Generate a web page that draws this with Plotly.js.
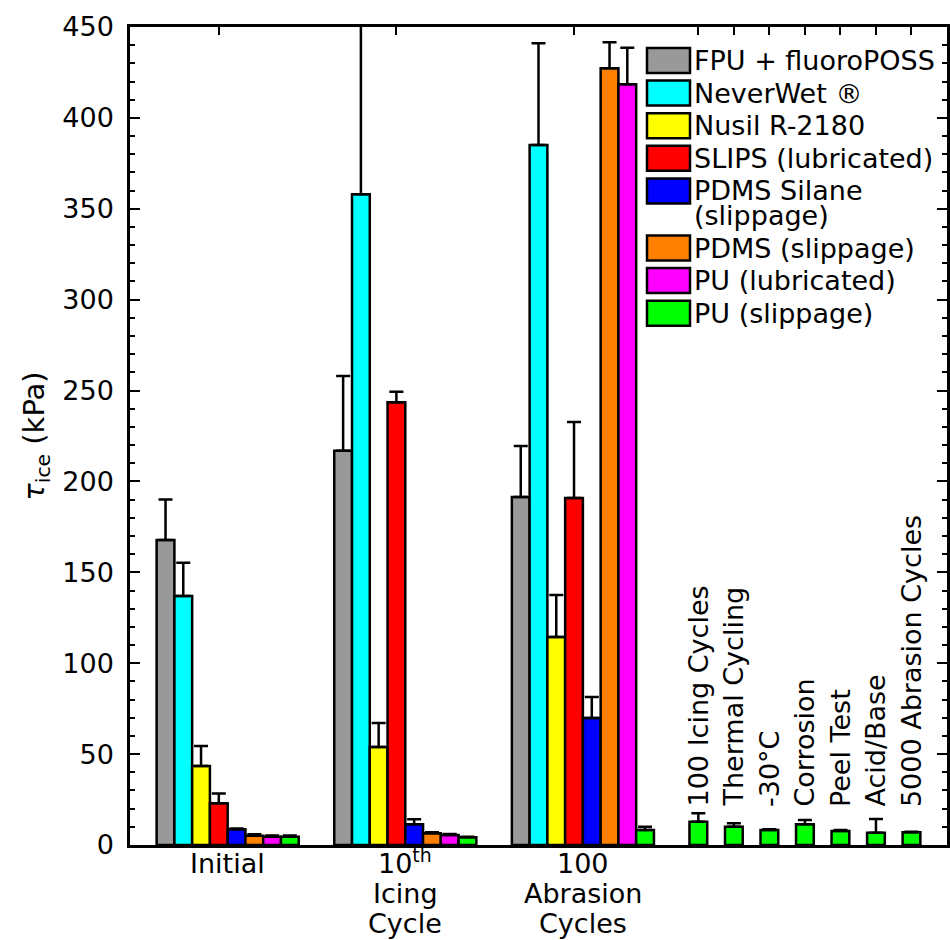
<!DOCTYPE html>
<html>
<head>
<meta charset="utf-8">
<script src="https://cdn.plot.ly/plotly-3.0.1.min.js"></script>
<style>
  html, body { margin: 0; padding: 0; background: #ffffff; }
  #chart { width: 950px; height: 940px; }
</style>
</head>
<body>
<div id="chart"></div>
<script>
// Ice adhesion strength of each coating, before and after durability testing.
const stages = ['Initial', '10<sup>th</sup><br>Icing<br>Cycle', '100<br>Abrasion<br>Cycles'];
const coatings = ['FPU + fluoroPOSS', 'NeverWet ®', 'Nusil R-2180', 'SLIPS (lubricated)',
  'PDMS Silane<br>(slippage)', 'PDMS (slippage)', 'PU (lubricated)', 'PU (slippage)'];
const coatingColors = ['#999999', '#00FFFF', '#FFFF00', '#FF0000', '#0000FF', '#FF8000', '#FF00FF', '#00FF00'];

// τ_ice in kPa: [Initial, 10th icing cycle, 100 abrasion cycles], with upper error
const fpuFluoroPOSS = [167.8, 216.9, 191.4];
const fpuFluoroPOSSErr = [22.3, 41.1, 28.1];
const neverWet = [137.0, 358.0, 385.1];
const neverWetErr = [18.3, 110.0, 55.9];
const nusil = [43.5, 53.9, 114.4];
const nusilErr = [11.0, 13.2, 23.1];
const slips = [22.9, 243.5, 190.9];
const slipsErr = [5.5, 5.9, 41.8];
const pdmsSilane = [8.6, 11.4, 69.9];
const pdmsSilaneErr = [0.5, 2.7, 11.5];
const pdms = [5.1, 6.4, 427.3];
const pdmsErr = [0.8, 0.6, 14.3];
const puLubricated = [4.6, 5.5, 418.5];
const puLubricatedErr = [0.6, 0.5, 20.1];
const puSlippage = [4.6, 4.2, 8.3];
const puSlippageErr = [0.6, 0.4, 1.8];

// PU (slippage) after the extended durability tests
const durabilityTests = ['100 Icing Cycles', 'Thermal Cycling', '-30°C', 'Corrosion',
  'Peel Test', 'Acid/Base', '5000 Abrasion Cycles'];
const puSlippageTests = [12.8, 10.1, 8.3, 11.4, 7.7, 6.8, 7.0];
const puSlippageTestsErr = [4.6, 1.8, 0.3, 2.4, 0.5, 7.5, 0.3];

const coatingValues = [fpuFluoroPOSS, neverWet, nusil, slips, pdmsSilane, pdms, puLubricated, puSlippage];
const coatingErrors = [fpuFluoroPOSSErr, neverWetErr, nusilErr, slipsErr, pdmsSilaneErr, pdmsErr, puLubricatedErr, puSlippageErr];

// ---- layout geometry ----
const W = 950, H = 940;
const margin = { l: 130, r: 3, t: 27, b: 95 };
const plotW = W - margin.l - margin.r;
const plotH = H - margin.t - margin.b;
const pxX = x => (x - margin.l) / plotW;       // page pixel -> paper x
const pxY = y => (H - margin.b - y) / plotH;   // page pixel -> paper y

const stageSpacing = 10;   // bar slots between stage groups
const testStart = 30;      // slot of the first extended test bar
const testSpacing = 2;
const stageX = (g, s) => g * stageSpacing + s;
const testX = k => testStart + k * testSpacing;

const FONT = 'DejaVu Sans, Liberation Sans, Arial, sans-serif';
const FS = 27;

// ---- bars ----
const traces = coatings.map((name, s) => {
  const x = stages.map((_, g) => stageX(g, s));
  const y = coatingValues[s].slice();
  const err = coatingErrors[s].slice();
  if (s === coatings.length - 1) {
    durabilityTests.forEach((_, k) => {
      x.push(testX(k));
      y.push(puSlippageTests[k]);
      err.push(puSlippageTestsErr[k]);
    });
  }
  return {
    type: 'bar',
    name: name,
    x: x,
    y: y,
    width: 1,
    marker: { color: coatingColors[s], line: { color: '#000000', width: 2.5 } },
    error_y: {
      type: 'data', symmetric: false, array: err,
      arrayminus: err.map(() => 0),
      color: '#000000', thickness: 2.5, width: 7
    },
    showlegend: false,
    hoverinfo: 'skip'
  };
});

const annotations = [];
const shapes = [];

// stage labels under the axis, one line at a time
stages.forEach((label, g) => {
  const center = (stageX(g, 0) + stageX(g, coatings.length - 1)) / 2;
  label.split('<br>').forEach((line, k) => {
    annotations.push({
      xref: 'x', yref: 'paper', x: center, y: 0,
      xanchor: 'center', yanchor: 'bottom',
      yshift: -36 - 30 * k,
      text: line, showarrow: false,
      font: { family: FONT, size: FS, color: '#000000' }
    });
  });
});

// rotated names of the extended tests above their bars
durabilityTests.forEach((label, k) => {
  annotations.push({
    xref: 'x', yref: 'y', x: testX(k), y: 20,
    xanchor: 'center', yanchor: 'bottom',
    textangle: -90,
    text: label, showarrow: false,
    font: { family: FONT, size: FS, color: '#000000' }
  });
});

// legend: boxed swatches with names
let cy = 60.5;
coatings.forEach((name, s) => {
  const lines = name.split('<br>');
  shapes.push({
    type: 'rect', xref: 'paper', yref: 'paper',
    x0: pxX(647), x1: pxX(690), y0: pxY(cy + 12.5), y1: pxY(cy - 12.5),
    fillcolor: coatingColors[s], line: { color: '#000000', width: 2.5 }
  });
  lines.forEach((line, k) => {
    annotations.push({
      xref: 'paper', yref: 'paper', x: pxX(692), y: pxY(cy + 25 * k),
      xanchor: 'left', yanchor: 'middle',
      text: line, showarrow: false,
      font: { family: FONT, size: FS, color: '#000000' }
    });
  });
  cy += 32.6 + (lines.length - 1) * 24.5;
});

// ticks along the frame at each stage and test position
const frameTicks = stages.map((_, g) => stageX(g, 3)).concat(durabilityTests.map((_, k) => testX(k)));

const layout = {
  width: W, height: H,
  margin: margin,
  paper_bgcolor: '#ffffff',
  plot_bgcolor: '#ffffff',
  barmode: 'overlay',
  showlegend: false,
  font: { family: FONT, size: FS, color: '#000000' },
  xaxis: {
    range: [-2, 44],
    showline: true, linecolor: '#000000', linewidth: 2.5, mirror: 'allticks',
    tickmode: 'array', tickvals: frameTicks, showticklabels: false,
    ticks: 'inside', ticklen: 8, tickwidth: 2, tickcolor: '#000000',
    showgrid: false, zeroline: false,
    layer: 'below traces'
  },
  yaxis: {
    range: [0, 450],
    showline: true, linecolor: '#000000', linewidth: 2.5, mirror: 'allticks',
    dtick: 50, tick0: 0,
    ticks: 'inside', ticklen: 10, tickwidth: 2, tickcolor: '#000000',
    minor: { dtick: 10, ticks: 'inside', ticklen: 5, tickwidth: 2, tickcolor: '#000000' },
    tickfont: { family: FONT, size: FS, color: '#000000' },
    ticklabelstandoff: 8,
    showgrid: false, zeroline: false,
    title: {
      text: '<i>τ</i><sub>ice</sub> (kPa)',
      font: { family: FONT, size: 29, color: '#000000' },
      standoff: 10
    }
  },
  annotations: annotations,
  shapes: shapes
};

Plotly.newPlot('chart', traces, layout, { displayModeBar: false, responsive: false });
</script>
</body>
</html>
